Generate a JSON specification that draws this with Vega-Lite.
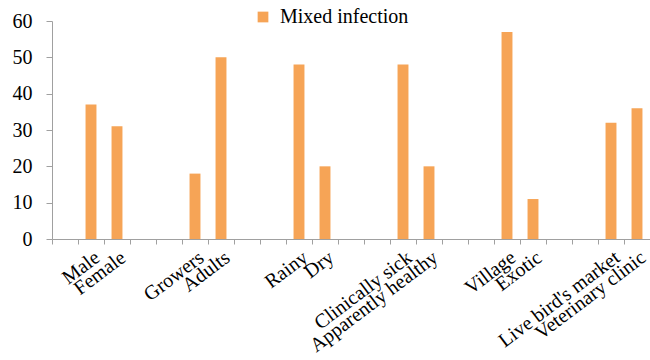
{
  "$schema": "https://vega.github.io/schema/vega-lite/v6.json",
  "autosize": "none",
  "width": 598,
  "height": 218,
  "padding": {"left": 52, "top": 21, "right": 0, "bottom": 121},
  "background": "white",
  "config": {"view": {"stroke": null}, "font": "Liberation Serif"},
  "data": {
    "values": [
      {"category": "Male", "value": 37},
      {"category": "Female", "value": 31},
      {"category": "Growers", "value": 18},
      {"category": "Adults", "value": 50},
      {"category": "Rainy", "value": 48},
      {"category": "Dry", "value": 20},
      {"category": "Clinically sick", "value": 48},
      {"category": "Apparently healthy", "value": 20},
      {"category": "Village", "value": 57},
      {"category": "Exotic", "value": 11},
      {"category": "Live bird's market", "value": 32},
      {"category": "Veterinary clinic", "value": 36}
    ]
  },
  "mark": {"type": "bar", "width": {"band": 0.42}},
  "encoding": {
    "x": {
      "field": "category",
      "type": "nominal",
      "sort": null,
      "scale": {
        "domain": [" ", "Male", "Female", "  ", "   ", "Growers", "Adults", "    ", "     ", "Rainy", "Dry", "      ", "       ", "Clinically sick", "Apparently healthy", "        ", "         ", "Village", "Exotic", "          ", "           ", "Live bird's market", "Veterinary clinic"],
        "paddingInner": 0,
        "paddingOuter": 0
      },
      "axis": {
        "title": null,
        "labelAngle": -37,
        "labelFontSize": 20,
        "labelColor": "#000000",
        "labelOverlap": false,
        "labelPadding": 3,
        "tickBand": "extent",
        "tickSize": 5,
        "tickColor": "#A0A0A0",
        "domainColor": "#A0A0A0",
        "grid": false
      }
    },
    "y": {
      "field": "value",
      "type": "quantitative",
      "scale": {"domain": [0, 60]},
      "axis": {
        "title": null,
        "values": [0, 10, 20, 30, 40, 50, 60],
        "labelFontSize": 20,
        "labelColor": "#000000",
        "labelPadding": 14,
        "tickSize": 6,
        "tickColor": "#A0A0A0",
        "domainColor": "#A0A0A0",
        "grid": false
      }
    },
    "color": {
      "datum": "Mixed infection",
      "scale": {"range": ["#F6A456"]},
      "legend": {
        "title": null,
        "orient": "none",
        "legendX": 201,
        "legendY": -14,
        "symbolType": "square",
        "symbolSize": 115,
        "symbolStrokeWidth": 0,
        "labelFontSize": 20,
        "labelColor": "#000000",
        "labelOffset": 7
      }
    }
  }
}
